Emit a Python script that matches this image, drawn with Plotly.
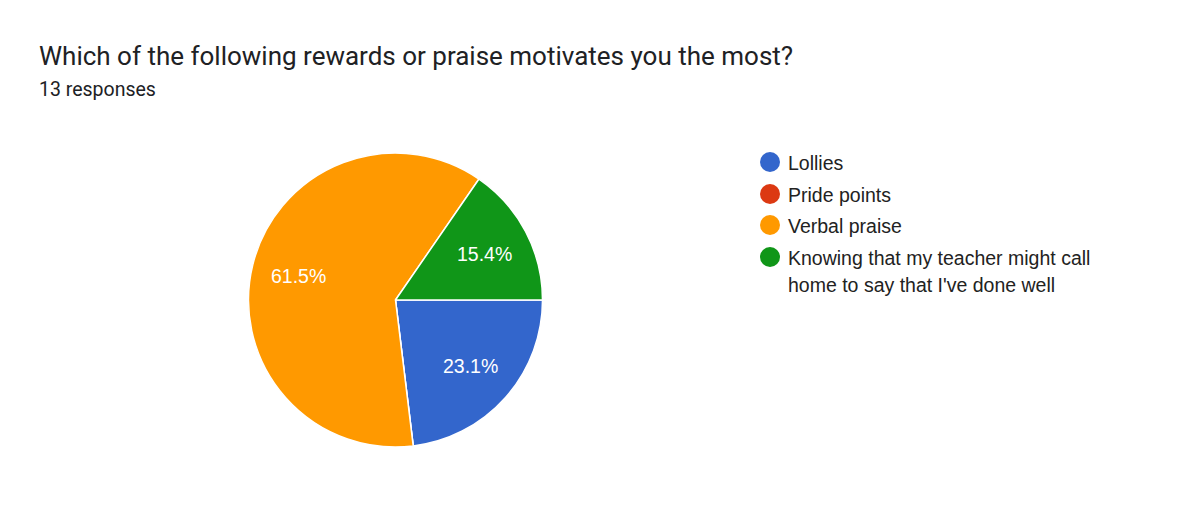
import math
import plotly.graph_objects as go

W, H = 1200, 505

title_text = "Which of the following rewards or praise motivates you the most?"
subtitle_text = "13 responses"
labels = ["Lollies", "Pride points", "Verbal praise",
          "Knowing that my teacher might call home to say that I've done well"]
legend_lines = [["Lollies"], ["Pride points"], ["Verbal praise"],
                ["Knowing that my teacher might call", "home to say that I've done well"]]
counts = [3, 0, 8, 2]
colors = ["#3366CC", "#DC3912", "#FF9900", "#109618"]

def px(x):
    return x / W

def py(y):
    return 1 - y / H

# pie geometry (pixels)
PL, PR, PT, PB = 248, 543, 153, 447
cx, cy, rad = (PL + PR) / 2, (PT + PB) / 2, (PB - PT) / 2
start_deg = 90  # compass angle of first slice start (3 o'clock), clockwise

fig = go.Figure()
fig.add_trace(go.Pie(
    labels=labels,
    values=counts,
    sort=False,
    direction="clockwise",
    rotation=start_deg,
    marker=dict(colors=colors, line=dict(color="white", width=1.5)),
    textinfo="none",
    showlegend=False,
    hoverinfo="label+percent",
    domain=dict(x=[px(PL), px(PR)], y=[py(PB), py(PT)]),
))

annotations = [
    dict(text=title_text, x=px(37), y=py(56), xref="paper", yref="paper",
         xanchor="left", yanchor="middle", showarrow=False,
         font=dict(family="Roboto", size=26, color="#202124")),
    dict(text=subtitle_text, x=px(37), y=py(90), xref="paper", yref="paper",
         xanchor="left", yanchor="middle", showarrow=False,
         font=dict(family="Roboto", size=19.5, color="#202124")),
]

# percentage labels placed along each slice's mid-angle
total = sum(counts)
acc = 0
for v in counts:
    if v > 0:
        mid = start_deg + 360 * (acc + v / 2) / total
        a = math.radians(mid)
        lx = cx + 0.68 * rad * math.sin(a)
        ly = cy - 0.68 * rad * math.cos(a)
        annotations.append(dict(text=f"{100 * v / total:.1f}%", x=px(lx), y=py(ly),
                                xref="paper", yref="paper", xanchor="center", yanchor="middle",
                                showarrow=False,
                                font=dict(family="Arial, Liberation Sans", size=19.5, color="white")))
    acc += v

shapes = []
row_y = [162, 194, 225, 257]
for i, (lines, c) in enumerate(zip(legend_lines, colors)):
    ry = row_y[i]
    r = 10
    shapes.append(dict(type="circle", xref="paper", yref="paper",
                       x0=px(770 - r), x1=px(770 + r), y0=py(ry + r), y1=py(ry - r),
                       fillcolor=c, line=dict(width=0)))
    for j, ln in enumerate(lines):
        annotations.append(dict(text=ln, x=px(786), y=py(ry + 1 + j * 27), xref="paper", yref="paper",
                                xanchor="left", yanchor="middle", showarrow=False,
                                font=dict(family="Arial, Liberation Sans", size=19.5, color="#222222")))

fig.update_layout(
    width=W, height=H,
    margin=dict(l=0, r=0, t=0, b=0),
    paper_bgcolor="white",
    plot_bgcolor="white",
    annotations=annotations,
    shapes=shapes,
)

fig.write_html("out.html")
